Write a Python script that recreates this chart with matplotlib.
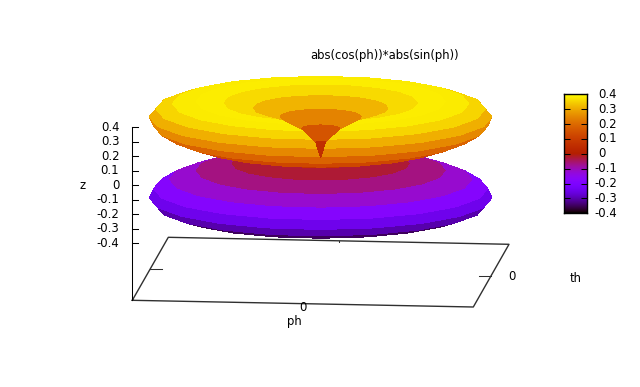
import numpy as np
import matplotlib
matplotlib.use("Agg")
import matplotlib.pyplot as plt
from matplotlib.collections import PolyCollection
from matplotlib.colors import Normalize

title = "abs(cos(ph))*abs(sin(ph))"
z_ticks = [0.4, 0.3, 0.2, 0.1, 0, -0.1, -0.2, -0.3, -0.4]
z_tick_labels = ["0.4", "0.3", "0.2", "0.1", "0", "-0.1", "-0.2", "-0.3", "-0.4"]

# Profile of the surface, one entry per mesh row (radius from axis, height)
radius_upper = [0, .0109, .0423, .0908, .1511, .2165, .2795, .3327, .3695, .3847,
                .3750, .3394, .2795, .1989, .1034, 0]
height_upper = [0, .1034, .1989, .2795, .3394, .3750, .3847, .3695, .3327, .2795,
                .2165, .1511, .0908, .0423, .0109, 0]
radius_lower = [0, .1034, .1989, .2795, .3394, .3750, .3847, .3695, .3327, .2795,
                .2165, .1511, .0908, .0423, .0109, 0]
height_lower = [0, -.0109, -.0423, -.0908, -.1511, -.2165, -.2795, -.3327, -.3695, -.3847,
                -.3750, -.3394, -.2795, -.1989, -.1034, 0]
# Mesh columns around the axis
n_columns = 20
column_offset_deg = 6

plt.rcParams['font.family'] = ['DejaVu Sans']
FS = 8.4
LW = 0.75

fig = plt.figure(figsize=(6.4, 3.87), dpi=100)
ax = fig.add_axes([0, 0, 1, 1])
ax.set_xlim(0, 640)
ax.set_ylim(387, 0)
ax.axis('off')

# gnuplot-like view (affine projection model -> figure pixels)
L = 0.385
corner_fl = np.array([132.3, 300.3])
corner_fr = np.array([473.3, 307.0])
corner_bl = np.array([168.3, 237.3])
corner_br = np.array([509.0, 244.3])
ux = (corner_fr - corner_fl) / (2 * L)
uy = (corner_bl - corner_fl) / (2 * L)
kz = 145.0
z0_at_corner = 185.3
center = (corner_fl + corner_br) / 2 + np.array([0, z0_at_corner - 300.3])
P = np.array([[ux[0], uy[0], 0], [ux[1], uy[1], -kz]])
view = np.cross(P[0], P[1])
if view[2] < 0:
    view = -view

def project(x, y, z):
    return center[0] + P[0, 0] * x + P[0, 1] * y, center[1] + P[1, 0] * x + P[1, 1] * y + P[1, 2] * z

norm = Normalize(-0.4, 0.4)
cmap = plt.get_cmap('gnuplot', 256)

# surface facets, painted scan by scan: each row, from the far side to the near side
polys, cols = [], []
ang = np.radians(np.linspace(0, 360, n_columns + 1) + column_offset_deg)
for rad, hgt in ((radius_lower, height_lower), (radius_upper, height_upper)):
    for i in range(len(rad) - 2, -1, -1):
        zm = 0.5 * (hgt[i] + hgt[i + 1])
        row = []
        for j in range(n_columns):
            X = np.array([rad[i] * np.cos(ang[j]), rad[i] * np.cos(ang[j + 1]),
                          rad[i + 1] * np.cos(ang[j + 1]), rad[i + 1] * np.cos(ang[j])])
            Y = np.array([rad[i] * np.sin(ang[j]), rad[i] * np.sin(ang[j + 1]),
                          rad[i + 1] * np.sin(ang[j + 1]), rad[i + 1] * np.sin(ang[j])])
            Z = np.array([hgt[i], hgt[i], hgt[i + 1], hgt[i + 1]])
            sx, sy = project(X, Y, Z)
            d = view[0] * X.mean() + view[1] * Y.mean() + view[2] * Z.mean()
            row.append((d, np.column_stack([sx, sy])))
        row.sort(key=lambda t: t[0])
        c = cmap(norm(zm))
        for _, p in row:
            polys.append(p)
            cols.append(c)
pc = PolyCollection(polys, facecolors=cols, edgecolors='none', linewidths=0,
                    antialiaseds=False, zorder=3)
ax.add_collection(pc)

# base box
box = np.array([corner_fl, corner_fr, corner_br, corner_bl, corner_fl])
ax.plot(box[:, 0], box[:, 1], color='#303030', lw=LW + 0.25, zorder=2, solid_capstyle='projecting')

# z axis
ax.plot([corner_fl[0]] * 2, [z0_at_corner - 0.4 * kz, corner_fl[1]], color='k', lw=LW, zorder=2)
for v, lab in zip(z_ticks, z_tick_labels):
    y = z0_at_corner - v * kz
    ax.plot([corner_fl[0], corner_fl[0] + 6], [y, y], color='k', lw=LW, zorder=2)
    ax.text(119.3, y, lab, ha='right', va='center', fontsize=FS)
ax.text(83, 185.5, "z", ha='center', va='center', fontsize=FS)

# x, y ticks
left_mid = (corner_fl + corner_bl) / 2
right_mid = (corner_fr + corner_br) / 2
back_mid = (corner_bl + corner_br) / 2
ax.plot([left_mid[0], left_mid[0] + 12], [left_mid[1]] * 2, color='#303030', lw=LW, zorder=2)
ax.plot([right_mid[0], right_mid[0] - 12], [right_mid[1]] * 2, color='#303030', lw=LW, zorder=2)
ax.plot([back_mid[0], back_mid[0]], [back_mid[1], back_mid[1] + 1.5], color='#303030', lw=LW, zorder=2)
ax.text(303.2, 307.5, "0", ha='center', va='center', fontsize=FS, zorder=4)
ax.text(294, 321, "ph", ha='center', va='center', fontsize=FS)
ax.text(511.5, 277, "0", ha='center', va='center', fontsize=FS)
ax.text(575.5, 278, "th", ha='center', va='center', fontsize=FS)
ax.text(384.5, 56, title, ha='center', va='center', fontsize=FS)

# colour box
cax = fig.add_axes([563.5 / 640, 1 - 213.3 / 387, 23 / 640, 119 / 387])
gradient = np.linspace(0.4, -0.4, 256).reshape(-1, 1)
cax.imshow(gradient, cmap='gnuplot', norm=norm, aspect='auto', extent=(0, 1, -0.4, 0.4), interpolation='bilinear')
cax.set_xticks([])
cax.set_yticks(z_ticks)
cax.tick_params(direction='in', length=6 * 0.72, width=LW, left=True, right=True,
                labelleft=False, labelright=False, color='k')
for s in cax.spines.values():
    s.set_linewidth(1.0)
for v, lab in zip(z_ticks, z_tick_labels):
    y = 213.3 - (v + 0.4) / 0.8 * 119
    ax.text(598.3 if v >= 0 else 594.3, y, lab, ha='left', va='center', fontsize=FS)

fig.savefig('out.png', dpi=100)
